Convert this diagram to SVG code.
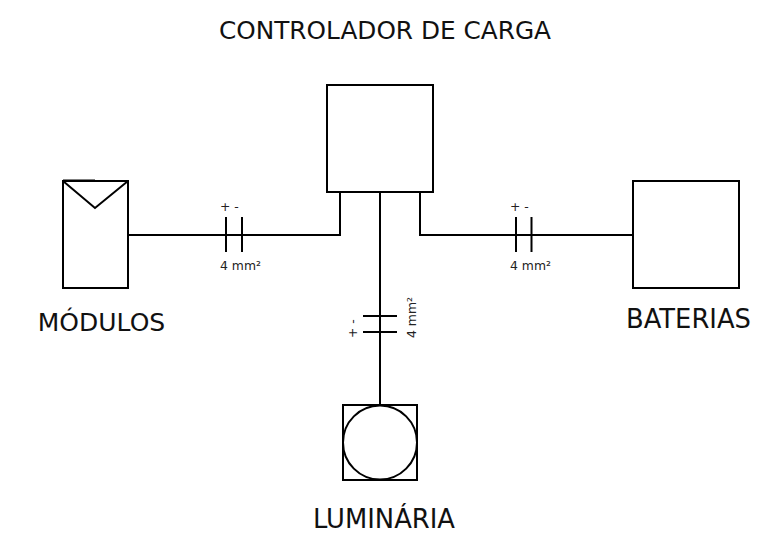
<svg xmlns="http://www.w3.org/2000/svg" width="770" height="536" viewBox="0 0 770 536">
<style>
.s{fill:none;stroke:#000;stroke-width:2}
.t{font-family:"DejaVu Sans",sans-serif;fill:#111;text-anchor:middle}
.m{font-family:"DejaVu Sans",sans-serif;font-size:12.400px;fill:#222}
</style>
<rect width="770" height="536" fill="#fff"/>
<g id="connectors">
<path class="s" d="M128 235H340V192M420 192V235H633M380 192V405"/>
</g>
<g id="controlador"><rect class="s" x="327" y="85" width="106" height="107"/><text class="t" font-size="24.750" x="385" y="39">CONTROLADOR DE CARGA</text></g>
<g id="modulos"><rect class="s" x="63" y="181" width="65" height="107"/><path class="s" d="M63 181L95 208L128 181M63 180.500H95"/><text class="t" font-size="25" x="101.500" y="331">MÓDULOS</text></g>
<g id="baterias"><rect class="s" x="633" y="181" width="106" height="107"/><text class="t" font-size="25.800" x="688.500" y="328">BATERIAS</text></g>
<g id="luminaria"><rect class="s" x="343" y="405" width="74" height="75"/><circle class="s" cx="380" cy="442.500" r="37"/><text class="t" font-size="25.800" x="384" y="528">LUMINÁRIA</text></g>
<g id="cap1"><path class="s" d="M226 217V252M242 217V252"/><text class="m" x="220" y="211">+ -</text><text class="m" x="220" y="270">4 mm²</text></g>
<g id="cap2"><path class="s" d="M516 217V252M531.500 217V252"/><text class="m" x="510" y="211">+ -</text><text class="m" x="510" y="270">4 mm²</text></g>
<g id="cap3"><path class="s" d="M363 316H397M363 332H397"/><text class="m" transform="translate(357 338) rotate(-90)">+ -</text><text class="m" transform="translate(416 338) rotate(-90)">4 mm²</text></g>
</svg>
